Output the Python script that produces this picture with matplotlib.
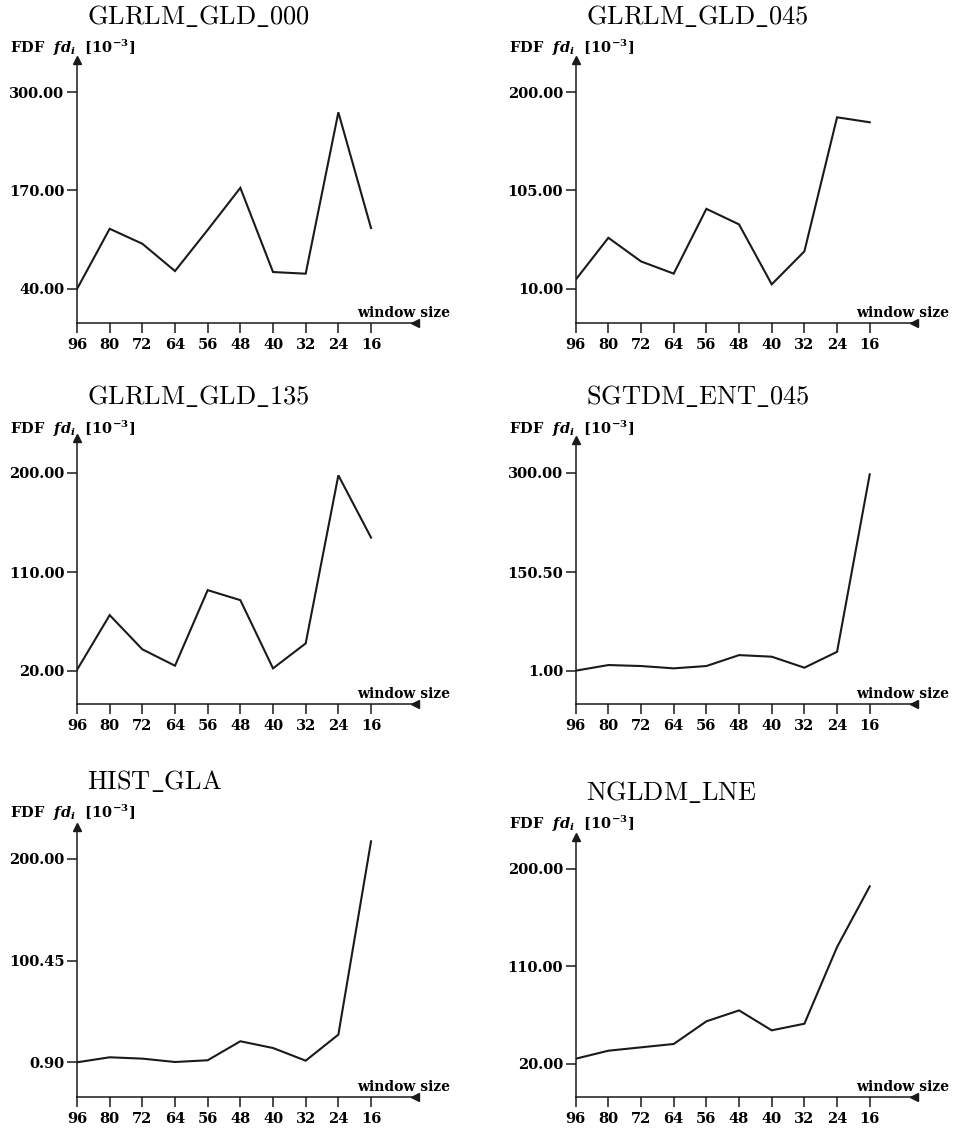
import matplotlib.pyplot as plt

# window sizes along the x axis, largest first
window_sizes = ["96", "80", "72", "64", "56", "48", "40", "32", "24", "16"]

titles = ["GLRLM_GLD_000", "GLRLM_GLD_045", "GLRLM_GLD_135",
          "SGTDM_ENT_045", "HIST_GLA", "NGLDM_LNE"]

# FDF values [10^-3]
glrlm_gld_000 = [40.0, 119.5, 99.7, 63.7, 118.0, 173.5, 62.4, 60.2, 273.2, 120.4]
glrlm_gld_045 = [19.0, 59.4, 36.6, 24.8, 87.3, 72.3, 14.5, 46.3, 175.6, 170.8]
glrlm_gld_135 = [21.0, 70.8, 39.7, 24.8, 93.5, 84.4, 22.4, 45.1, 197.9, 141.3]
sgtdm_ent_045 = [1.5, 10.0, 8.5, 5.0, 8.5, 25.0, 22.6, 6.0, 30.0, 298.0]
hist_gla = [0.9, 5.8, 4.5, 1.2, 2.9, 21.5, 14.9, 2.5, 28.0, 217.3]
ngldm_lne = [24.6, 32.0, 35.1, 38.2, 59.1, 69.2, 50.8, 56.9, 127.7, 183.7]

series = [glrlm_gld_000, glrlm_gld_045, glrlm_gld_135,
          sgtdm_ent_045, hist_gla, ngldm_lne]

# lowest and highest labelled y tick of each panel
y_ticks_lo = [40.0, 10.0, 20.0, 1.0, 0.9, 20.0]
y_ticks_hi = [300.0, 200.0, 200.0, 300.0, 200.0, 200.0]

plt.rcParams['mathtext.fontset'] = 'custom'
plt.rcParams['mathtext.rm'] = 'DejaVu Serif:bold'
plt.rcParams['mathtext.bf'] = 'DejaVu Serif:bold'
plt.rcParams['mathtext.it'] = 'DejaVu Serif:italic:bold'

W, H = 960, 1128
fig = plt.figure(figsize=(W / 100, H / 100), dpi=100)

# pixel geometry per panel:
# origin x, origin y, low tick height, high tick height, axis height, title offset, label offset
layout = [
    (77.0, 323, 34.0, 231.0, 263, 306, 275),
    (575.7, 323, 34.0, 231.0, 263, 306, 275),
    (77.0, 704, 33.0, 231.0, 266, 307, 275),
    (575.7, 704, 33.0, 231.0, 264, 307, 275),
    (77.0, 1097, 34.7, 238.0, 270, 315, 284),
    (575.7, 1097, 33.3, 228.3, 260, 304, 273),
]
x_len = 338.0
x_step = 32.67

tick_font = dict(family='DejaVu Serif', weight='bold', size=10.5)
ylabel = r'$\mathrm{FDF}\ \ \mathit{fd_i}\ \ \mathrm{[10^{-3}]}$'

for title, vals, lo, hi, geo in zip(titles, series, y_ticks_lo, y_ticks_hi, layout):
    ox, oy, lo_px, hi_px, h_px, t_up, l_up = geo
    ax = fig.add_axes([ox / W, 1 - oy / H, x_len / W, h_px / H])
    s = (hi - lo) / (hi_px - lo_px)
    ax.set_ylim(lo - lo_px * s, lo + (h_px - lo_px) * s)
    ax.set_xlim(0, x_len / x_step)

    ax.plot(range(len(vals)), vals, color='#1a1a1a', lw=1.5, solid_joinstyle='miter')

    for side in ['top', 'right']:
        ax.spines[side].set_visible(False)
    for side in ['left', 'bottom']:
        ax.spines[side].set_linewidth(1.1)
        ax.spines[side].set_color('#1a1a1a')

    # arrow heads on the axes
    ax.plot([0], [1], marker='^', color='#1a1a1a', ms=6, transform=ax.transAxes, clip_on=False)
    ax.plot([1], [0], marker='<', color='#1a1a1a', ms=6, transform=ax.transAxes, clip_on=False)

    ax.set_xticks(range(len(window_sizes)))
    ax.set_xticklabels(window_sizes, fontdict=tick_font)
    yt = [lo, (lo + hi) / 2, hi]
    ax.set_yticks(yt)
    ax.set_yticklabels([f"{v:.2f}" for v in yt], fontdict=tick_font)
    ax.tick_params(axis='x', direction='out', length=7, width=1.1, pad=4, color='#1a1a1a')
    ax.tick_params(axis='y', direction='out', length=7, width=1.1, pad=2, color='#1a1a1a')

    ax.annotate(r'$\mathrm{' + title.replace('_', r'\_') + '}$', xy=(0, 0), xycoords='axes fraction',
                xytext=(10, t_up), textcoords='offset pixels', ha='left', va='center',
                fontsize=19, math_fontfamily='cm', annotation_clip=False)
    ax.annotate(ylabel, xy=(0, 0), xycoords='axes fraction',
                xytext=(-67, l_up), textcoords='offset pixels', ha='left', va='center',
                fontsize=10.5, annotation_clip=False)
    ax.annotate('window size', xy=(1, 0), xycoords='axes fraction',
                xytext=(35, 10), textcoords='offset pixels', ha='right', va='center',
                annotation_clip=False, **{'fontfamily': 'DejaVu Serif', 'fontweight': 'bold', 'fontsize': 10})

fig.savefig('out.png', dpi=100)
